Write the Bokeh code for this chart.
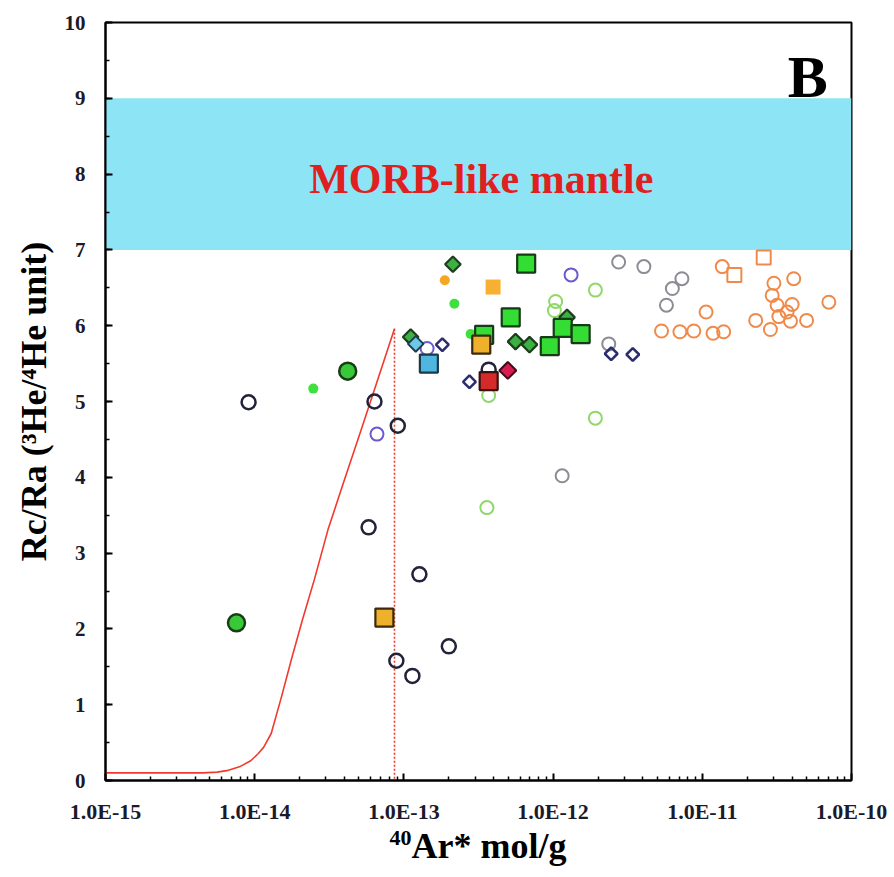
import math
from bokeh.plotting import figure
from bokeh.layouts import column
from bokeh.models import (Range1d, FixedTicker, SingleIntervalTicker, CustomJSTickFormatter,
                          BoxAnnotation, Label, Div)
from bokeh.embed import file_html
from bokeh.resources import INLINE

# ---------------- data (x: 40Ar* mol/g, y: Rc/Ra) ----------------
dark_open_x = [9.1e-15, 6.35e-14, 9.1e-14, 5.8e-14, 1.27e-13, 2.0e-13, 8.9e-14, 1.14e-13, 3.7e-13]
dark_open_y = [4.99, 5.00, 4.68, 3.34, 2.72, 1.77, 1.58, 1.38, 5.42]

blue_open_x = [6.6e-14, 1.32e-12, 1.43e-13]
blue_open_y = [4.57, 6.67, 5.70]

navy_diamond_x = [1.81e-13, 2.75e-13, 2.45e-12, 3.42e-12]
navy_diamond_y = [5.75, 5.26, 5.63, 5.62]

ltgreen_open_x = [1.04e-12, 1.02e-12, 1.92e-12, 3.7e-13, 1.92e-12, 3.6e-13]
ltgreen_open_y = [6.32, 6.20, 6.47, 5.08, 4.78, 3.60]

gray_open_x = [2.75e-12, 4.06e-12, 7.3e-12, 6.3e-12, 5.75e-12, 2.36e-12, 1.15e-12]
gray_open_y = [6.84, 6.78, 6.62, 6.49, 6.27, 5.76, 4.02]

orange_open_x = [1.36e-11, 3.02e-11, 4.1e-11, 2.94e-11, 3.17e-11, 4.0e-11, 3.7e-11, 3.26e-11,
                 3.9e-11, 5.0e-11, 7.05e-11, 2.28e-11, 2.86e-11, 1.06e-11, 5.33e-12, 7.08e-12,
                 8.77e-12, 1.18e-11, 1.39e-11]
orange_open_y = [6.78, 6.56, 6.62, 6.40, 6.27, 6.28, 6.18, 6.12,
                 6.06, 6.07, 6.31, 6.07, 5.95, 6.18, 5.93, 5.92,
                 5.93, 5.90, 5.92]

orange_open_sq_x = [2.58e-11, 1.64e-11]
orange_open_sq_y = [6.90, 6.67]

green_small_x = [2.47e-14, 2.18e-13, 2.8e-13]
green_small_y = [5.17, 6.29, 5.89]

orange_small_x = [1.88e-13]
orange_small_y = [6.60]

green_big_x = [4.2e-14, 7.55e-15]
green_big_y = [5.40, 2.08]

green_diamond_x = [2.13e-13, 1.11e-13, 5.6e-13, 6.95e-13, 1.24e-12]
green_diamond_y = [6.81, 5.85, 5.79, 5.75, 6.11]

cyan_diamond_x = [1.2e-13]
cyan_diamond_y = [5.76]

cyan_square_x = [1.47e-13]
cyan_square_y = [5.50]

green_square_x = [3.45e-13, 6.6e-13, 5.2e-13, 1.16e-12, 1.53e-12, 9.5e-13]
green_square_y = [5.88, 6.82, 6.11, 5.97, 5.89, 5.73]

gold_square_x = [3.3e-13, 7.4e-14]
gold_square_y = [5.75, 2.15]

orange_square_x = [3.96e-13]
orange_square_y = [6.51]

red_square_x = [3.7e-13]
red_square_y = [5.27]

crimson_diamond_x = [4.97e-13]
crimson_diamond_y = [5.41]

# model curve
curve_x = [1e-15, 2.5e-15, 4.5e-15, 5.6e-15, 6.5e-15, 7.9e-15, 9.4e-15, 1.05e-14, 1.15e-14,
           1.29e-14, 1.51e-14, 1.78e-14, 2.09e-14, 2.51e-14, 3.1e-14, 4.0e-14, 5.2e-14, 8.65e-14]
curve_y = [0.10, 0.10, 0.10, 0.11, 0.13, 0.18, 0.26, 0.35, 0.44,
           0.62, 1.10, 1.63, 2.12, 2.65, 3.31, 3.97, 4.64, 5.96]

cutoff_x = [8.65e-14, 8.65e-14]
cutoff_y = [5.96, 0.0]

morb_low, morb_high = 7, 9

x_major = [1e-15, 1e-14, 1e-13, 1e-12, 1e-11, 1e-10]
x_minor = [m * d for d in x_major[:-1] for m in range(2, 10)]

SERIF = "Liberation Serif"

p = figure(width=894, height=830, x_axis_type="log",
           x_range=Range1d(1e-15, 1e-10), y_range=Range1d(0, 10),
           output_backend="svg", toolbar_location=None,
           min_border_left=105, min_border_right=43, min_border_top=22, min_border_bottom=50)
p.grid.visible = False
p.background_fill_color = "white"
p.outline_line_color = "black"
p.outline_line_width = 2
p.outline_line_alpha = 1

p.add_layout(BoxAnnotation(bottom=morb_low, top=morb_high, fill_color="#8de4f5", fill_alpha=1,
                           line_color=None, level="underlay"))

# axes
p.xaxis.ticker = FixedTicker(ticks=x_major, minor_ticks=x_minor)
p.xaxis.formatter = CustomJSTickFormatter(code="return tick.toExponential(1).toUpperCase().replace('+','');")
p.yaxis.ticker = SingleIntervalTicker(interval=1, num_minor_ticks=2)
for ax in (p.xaxis[0], p.yaxis[0]):
    ax.axis_line_width = 2
    ax.axis_line_color = "black"
    ax.major_tick_in = 7
    ax.major_tick_out = 0
    ax.minor_tick_in = 4
    ax.minor_tick_out = 0
    ax.major_tick_line_width = 2
    ax.minor_tick_line_width = 1.5
    ax.major_label_text_font = SERIF
    ax.major_label_text_font_style = "bold"
    ax.major_label_text_color = "#1a1a2a"
p.xaxis.major_label_text_font_size = "22px"
p.yaxis.major_label_text_font_size = "21px"
p.xaxis.major_label_standoff = 18
p.yaxis.major_label_standoff = 20

p.yaxis.axis_label = "Rc/Ra (\u00b3He/\u2074He unit)"
p.yaxis.axis_label_text_font = SERIF
p.yaxis.axis_label_text_font_style = "bold"
p.yaxis.axis_label_text_font_size = "36px"
p.yaxis.axis_label_text_color = "black"
p.yaxis.axis_label_standoff = 8

# curve
p.line(curve_x, curve_y, line_color="#f03a2e", line_width=1.6)
p.line(cutoff_x, cutoff_y, line_color="#f03a2e", line_width=1.6, line_dash="2 2")

D = math.pi / 4  # rotate squares into diamonds

# points (back to front)
p.scatter(dark_open_x, dark_open_y, marker="circle", size=14, fill_alpha=0,
          line_color="#22223a", line_width=2.5)
p.scatter(blue_open_x, blue_open_y, marker="circle", size=13, fill_alpha=0,
          line_color="#6a5acd", line_width=2)
p.scatter(ltgreen_open_x, ltgreen_open_y, marker="circle", size=13, fill_alpha=0,
          line_color="#8fd86a", line_width=2)
p.scatter(gray_open_x, gray_open_y, marker="circle", size=13, fill_alpha=0,
          line_color="#8c8c94", line_width=2)
p.scatter(orange_open_x, orange_open_y, marker="circle", size=13, fill_alpha=0,
          line_color="#f08a4b", line_width=2)
p.scatter(orange_open_sq_x, orange_open_sq_y, marker="square", size=14, fill_alpha=0,
          line_color="#f08a4b", line_width=2)
p.scatter(navy_diamond_x, navy_diamond_y, marker="square", angle=D, size=9, fill_alpha=0,
          line_color="#2b2d6e", line_width=2.5)
p.scatter(green_small_x, green_small_y, marker="circle", size=10, fill_color="#3ee03e",
          line_color=None)
p.scatter(orange_small_x, orange_small_y, marker="circle", size=10, fill_color="#f5a623",
          line_color=None)
p.scatter(green_big_x, green_big_y, marker="circle", size=17, fill_color="#38c838",
          line_color="#173d17", line_width=2.5)
p.scatter(green_diamond_x, green_diamond_y, marker="square", angle=D, size=11, fill_color="#3cb043",
          line_color="#1d3d1d", line_width=2.2)
p.scatter(cyan_diamond_x, cyan_diamond_y, marker="square", angle=D, size=11, fill_color="#6cc8e6",
          line_color="#1d3d4d", line_width=2)
p.scatter(cyan_square_x, cyan_square_y, marker="square", size=18, fill_color="#4fb6e0",
          line_color="#1a3a4a", line_width=2.2)
p.scatter(green_square_x, green_square_y, marker="square", size=18, fill_color="#33dd33",
          line_color="#173a17", line_width=2.2)
p.scatter(gold_square_x, gold_square_y, marker="square", size=18, fill_color="#efb12b",
          line_color="#3a2a10", line_width=2.2)
p.scatter(orange_square_x, orange_square_y, marker="square", size=15, fill_color="#f7b032",
          line_color=None)
p.scatter(red_square_x, red_square_y, marker="square", size=18, fill_color="#d42a2a",
          line_color="#3a1010", line_width=2.2)
p.scatter(crimson_diamond_x, crimson_diamond_y, marker="square", angle=D, size=12, fill_color="#d81b50",
          line_color="#3a0d1a", line_width=2)

# annotations
p.add_layout(Label(x=3.3e-13, y=7.93, text="MORB-like mantle", text_font=SERIF,
                   text_font_style="bold", text_font_size="42px", text_color="#e0201e",
                   text_align="center", text_baseline="middle"))
p.add_layout(Label(x=5.1e-11, y=9.28, text="B", text_font=SERIF,
                   text_font_style="bold", text_font_size="60px", text_color="black",
                   text_align="center", text_baseline="middle"))

# x-axis title with a true superscript
xlabel = Div(
    text='<span style="font-size:22px; position:relative; top:-13px;">40</span>Ar* mol/g',
    width=746, height=47, margin=(0, 0, 0, 105),
    styles={"font-family": SERIF, "font-weight": "bold", "font-size": "36px",
            "line-height": "32px", "text-align": "center", "color": "black",
            "width": "746px", "white-space": "nowrap"})

layout = column(p, xlabel, spacing=0)
open("out.html", "w").write(file_html(layout, INLINE))
